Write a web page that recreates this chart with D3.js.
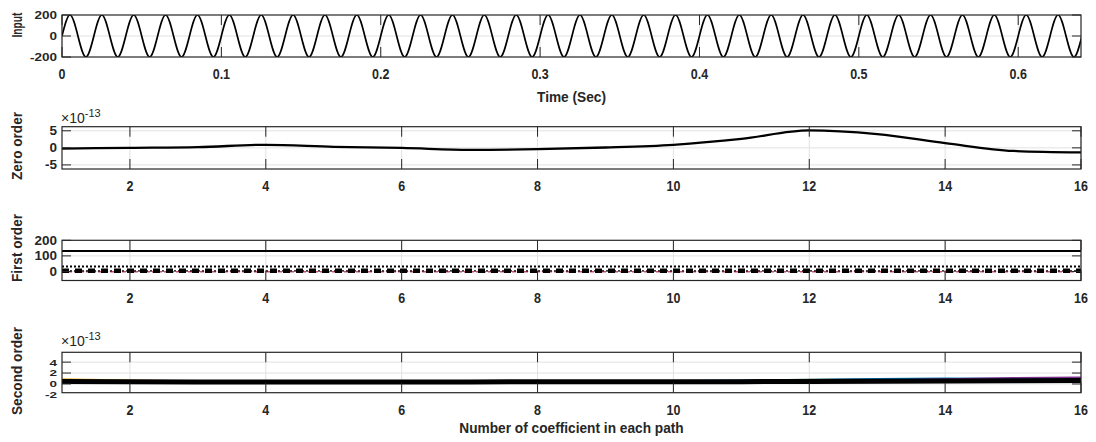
<!DOCTYPE html>
<html>
<head>
<meta charset="utf-8">
<script src="https://cdn.jsdelivr.net/npm/d3@7"></script>
<style>
  body { margin: 0; background: #fff; }
  svg { display: block; }
  text { font-family: "Liberation Sans", Arial, sans-serif; font-weight: bold; fill: #262626; }
</style>
</head>
<body>
<script>
// data
const inputStep = 0.005; // seconds between samples (quarter period of 50 Hz)
const inputVals = [
  0, 200, 0, -200, 0, 200, 0, -200, 0, 200, 0, -200, 0, 200, 0, -200,
  0, 200, 0, -200, 0, 200, 0, -200, 0, 200, 0, -200, 0, 200, 0, -200,
  0, 200, 0, -200, 0, 200, 0, -200, 0, 200, 0, -200, 0, 200, 0, -200,
  0, 200, 0, -200, 0, 200, 0, -200, 0, 200, 0, -200, 0, 200, 0, -200,
  0, 200, 0, -200, 0, 200, 0, -200, 0, 200, 0, -200, 0, 200, 0, -200,
  0, 200, 0, -200, 0, 200, 0, -200, 0, 200, 0, -200, 0, 200, 0, -200,
  0, 200, 0, -200, 0, 200, 0, -200, 0, 200, 0, -200, 0, 200, 0, -200,
  0, 200, 0, -200, 0, 200, 0, -200, 0, 200, 0, -200, 0, 200, 0, -200,
  0
];
const timeTicks = [0, 0.1, 0.2, 0.3, 0.4, 0.5, 0.6];
const inputTicks = [-200, 0, 200];

const coeffs = [1, 2, 3, 4, 5, 6, 7, 8, 9, 10, 11, 12, 13, 14, 15, 16];
const coeffTicks = [2, 4, 6, 8, 10, 12, 14, 16];

// zero order (x 1e-13)
const zeroOrder = [-0.2, 0.0, 0.2, 0.9, 0.3, 0.0, -0.6, -0.4, 0.1, 0.9, 2.6, 5.1, 4.0, 1.4, -0.9, -1.3];
const zeroTicks = [-5, 0, 5];

// first order
const firstSolid  = [132, 132, 132, 132, 132, 132, 132, 132, 132, 132, 132, 132, 132, 132, 132, 132];
const firstDotted = [32, 32, 32, 32, 32, 32, 32, 32, 32, 32, 32, 32, 32, 32, 32, 32];
const firstDashDot = [4, 4, 4, 4, 4, 4, 4, 4, 4, 4, 4, 4, 4, 4, 4, 4];
const firstRed = [-2, -2, -2, -2, -2, -2, -2, -2, -2, -2, -2, -2, -2, -2, -2, -2];
const firstTicks = [0, 100, 200];

// second order (x 1e-13)
const secondYellow = [0.9, 0.7, 0.55, 0.45, 0.4, 0.4, 0.45, 0.5, 0.5, 0.55, 0.65, 0.8, 0.85, 0.8, 0.7, 0.6];
const secondBlue   = [0.6, 0.5, 0.45, 0.4, 0.4, 0.4, 0.45, 0.5, 0.55, 0.6, 0.7, 0.8, 0.95, 1.05, 1.0, 0.9];
const secondPurple = [0.5, 0.45, 0.4, 0.4, 0.4, 0.4, 0.4, 0.45, 0.45, 0.5, 0.55, 0.6, 0.7, 0.9, 1.15, 1.25];
const secondGreen  = [0.55, 0.5, 0.45, 0.4, 0.4, 0.4, 0.4, 0.45, 0.5, 0.5, 0.55, 0.6, 0.65, 0.7, 0.75, 0.8];
const secondBlack  = [0.45, 0.42, 0.38, 0.35, 0.35, 0.35, 0.38, 0.4, 0.4, 0.4, 0.42, 0.45, 0.5, 0.55, 0.6, 0.65];
const secondTicks = [-2, 0, 2, 4];

// layout
const w = 1096, h = 442;
const left = 62, right = 1081;

const svg = d3.select('body').append('svg')
  .attr('width', w)
  .attr('height', h);
svg.append('rect').attr('width', w).attr('height', h).attr('fill', '#fff');

// text squeezed or stretched vertically like the picture
function label(x, y, str, opt) {
  opt = opt || {};
  const g = svg.append('g')
    .attr('transform', 'translate(' + x + ',' + y + ') scale(1,' + (opt.sy || 1) + ')' + (opt.rot ? ' rotate(' + opt.rot + ')' : ''));
  const t = g.append('text')
    .attr('text-anchor', opt.anchor || 'middle')
    .attr('dy', opt.dy === undefined ? '0.35em' : opt.dy)
    .style('font-size', (opt.size || 13) + 'px')
    .text(str);
  if (opt.len) t.attr('textLength', opt.len).attr('lengthAdjust', 'spacingAndGlyphs');
  return t;
}

function exponent(x, y) {
  const t = svg.append('text')
    .attr('x', x).attr('y', y)
    .style('font-size', '14px')
    .style('font-weight', 'normal');
  t.append('tspan').text('\u00d710');
  t.append('tspan').attr('dy', -6).style('font-size', '11px').text('-13');
}

let clipId = 0;
function panel(cfg) {
  const x = d3.scaleLinear().domain(cfg.xDomain).range([left, right]);
  const y = d3.scaleLinear().domain(cfg.yDomain).range([cfg.bottom, cfg.top]);
  const g = svg.append('g');

  // grid
  g.selectAll('.gx').data(cfg.xTicks).enter().append('line')
    .attr('x1', d => x(d)).attr('x2', d => x(d))
    .attr('y1', cfg.top).attr('y2', cfg.bottom)
    .attr('stroke', '#e2e2e2');
  g.selectAll('.gy').data(cfg.yTicks.filter(d => d > cfg.yDomain[0] && d < cfg.yDomain[1])).enter().append('line')
    .attr('x1', left).attr('x2', right)
    .attr('y1', d => y(d)).attr('y2', d => y(d))
    .attr('stroke', '#e2e2e2');

  // data lines
  const id = 'clip' + (clipId++);
  svg.append('clipPath').attr('id', id).append('rect')
    .attr('x', left).attr('y', cfg.top)
    .attr('width', right - left).attr('height', cfg.bottom - cfg.top);
  const lines = g.append('g').attr('clip-path', 'url(#' + id + ')');
  cfg.series.forEach(s => {
    const line = d3.line()
      .x((d, i) => x(s.xs[i]))
      .y(d => y(d))
      .curve(s.curve || d3.curveLinear);
    lines.append('path')
      .attr('d', line(s.ys))
      .attr('fill', 'none')
      .attr('stroke', s.color || '#000')
      .attr('stroke-width', s.width || 2)
      .attr('stroke-dasharray', s.dash || null);
  });

  // ticks (inside, on all four sides)
  const xt = 10, yt = 9;
  cfg.xTicks.forEach(d => {
    g.append('line').attr('x1', x(d)).attr('x2', x(d)).attr('y1', cfg.bottom).attr('y2', cfg.bottom - xt).attr('stroke', '#262626');
    g.append('line').attr('x1', x(d)).attr('x2', x(d)).attr('y1', cfg.top).attr('y2', cfg.top + xt).attr('stroke', '#262626');
  });
  cfg.yTicks.filter(d => d >= cfg.yDomain[0] && d <= cfg.yDomain[1]).forEach(d => {
    g.append('line').attr('x1', left).attr('x2', left + yt).attr('y1', y(d)).attr('y2', y(d)).attr('stroke', '#262626');
    g.append('line').attr('x1', right).attr('x2', right - yt).attr('y1', y(d)).attr('y2', y(d)).attr('stroke', '#262626');
  });

  // box
  g.append('rect')
    .attr('x', left).attr('y', cfg.top)
    .attr('width', right - left).attr('height', cfg.bottom - cfg.top)
    .attr('fill', 'none').attr('stroke', '#262626').attr('stroke-width', 1.2);

  // tick labels
  cfg.xTicks.forEach(d => label(x(d), cfg.bottom + 17, cfg.xFormat ? cfg.xFormat(d) : d, { size: 12.5, sy: 1.2 }));
  cfg.yTicks.forEach(d => label(left - 5, y(d), d, { anchor: 'end', sy: cfg.ySquish, size: 13.5 }));

  // axis title
  label(22, cfg.titleY, cfg.title, { rot: -90, len: cfg.titleLen, dy: 0, size: 14 });
}

panel({
  top: 15, bottom: 57,
  xDomain: [0, 0.6394], yDomain: [-200, 200],
  xTicks: timeTicks, yTicks: inputTicks, ySquish: 0.78,
  xFormat: d => d === 0 ? '0' : d3.format('.1f')(d),
  title: 'Input', titleY: 25, titleLen: 25,
  series: [{ xs: inputVals.map((d, i) => i * inputStep), ys: inputVals, width: 1.7, curve: d3.curveNatural }]
});
label((left + right) / 2, 97, 'Time (Sec)', { size: 13.7, sy: 1.1 });

panel({
  top: 126.7, bottom: 169,
  xDomain: [1, 16], yDomain: [-6.2, 6.2],
  xTicks: coeffTicks, yTicks: zeroTicks, ySquish: 0.9,
  title: 'Zero order', titleY: 146, titleLen: 68,
  series: [{ xs: coeffs, ys: zeroOrder, width: 2.3, curve: d3.curveMonotoneX }]
});
exponent(61, 123);

panel({
  top: 240.3, bottom: 280.5,
  xDomain: [1, 16], yDomain: [-58, 200],
  xTicks: coeffTicks, yTicks: firstTicks, ySquish: 0.9,
  title: 'First order', titleY: 248, titleLen: 68,
  series: [
    { xs: coeffs, ys: firstSolid, width: 2 },
    { xs: coeffs, ys: firstDotted, width: 2, dash: '2,2' },
    { xs: coeffs, ys: firstRed, width: 1.3, color: '#c8506a', dash: '4,2' },
    { xs: coeffs, ys: firstDashDot, width: 1.4, dash: '2,2' },
    { xs: coeffs, ys: firstDashDot, width: 4.5, dash: '7,6' }
  ]
});

panel({
  top: 352.3, bottom: 392.7,
  xDomain: [1, 16], yDomain: [-1.6, 5.8],
  xTicks: coeffTicks, yTicks: secondTicks, ySquish: 0.72,
  title: 'Second order', titleY: 371, titleLen: 88,
  series: [
    { xs: coeffs, ys: secondYellow, width: 1.5, color: '#EDB120' },
    { xs: coeffs, ys: secondGreen, width: 1.5, color: '#77AC30' },
    { xs: coeffs, ys: secondBlue, width: 1.5, color: '#0072BD' },
    { xs: coeffs, ys: secondPurple, width: 1.5, color: '#7E2F8E' },
    { xs: coeffs, ys: secondBlack, width: 5, color: '#000' }
  ]
});
exponent(61, 346);
label((left + right) / 2, 428, 'Number of coefficient in each path', { size: 13.7, sy: 1.1 });
</script>
</body>
</html>
